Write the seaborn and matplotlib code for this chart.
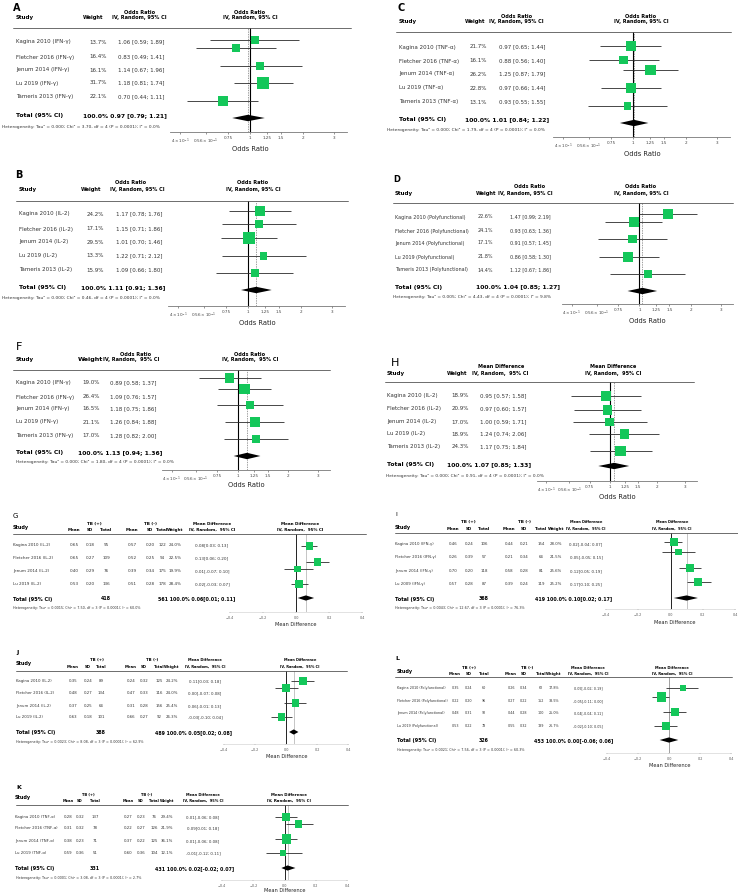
import matplotlib
matplotlib.use('Agg')
import matplotlib.pyplot as plt
from matplotlib.lines import Line2D
from matplotlib.ticker import NullLocator
import seaborn as sns

# ---------------- data ----------------
names5 = ['Kagina 2010', 'Fletcher 2016', 'Jenum 2014', 'Lu 2019', 'Tameris 2013']

# Odds ratio panels
studies_A = [f'{n} (IFN-γ)' for n in names5]
weight_A = [13.7, 16.4, 16.1, 31.7, 22.1]
est_A = [1.06, 0.83, 1.14, 1.18, 0.70]
lo_A = [0.59, 0.49, 0.67, 0.81, 0.44]
hi_A = [1.89, 1.41, 1.96, 1.74, 1.11]
total_A = [0.97, 0.79, 1.21]
het_A = 'Heterogeneity: Tau² = 0.000; Chi² = 3.70, df = 4 (P = 0.0001); I² = 0.0%'

studies_B = [f'{n} (IL-2)' for n in names5]
weight_B = [24.2, 17.1, 29.5, 13.3, 15.9]
est_B = [1.17, 1.15, 1.01, 1.22, 1.09]
lo_B = [0.78, 0.71, 0.70, 0.71, 0.66]
hi_B = [1.76, 1.86, 1.46, 2.12, 1.80]
total_B = [1.11, 0.91, 1.36]
het_B = 'Heterogeneity: Tau² = 0.000; Chi² = 0.46, df = 4 (P = 0.0001); I² = 0.0%'

studies_C = [f'{n} (TNF-α)' for n in names5]
weight_C = [21.7, 16.1, 26.2, 22.8, 13.1]
est_C = [0.97, 0.88, 1.25, 0.97, 0.93]
lo_C = [0.65, 0.56, 0.87, 0.66, 0.55]
hi_C = [1.44, 1.40, 1.79, 1.44, 1.55]
total_C = [1.01, 0.84, 1.22]
het_C = 'Heterogeneity: Tau² = 0.000; Chi² = 1.79, df = 4 (P = 0.0001); I² = 0.0%'

studies_D = [f'{n} (Polyfunctional)' for n in names5]
weight_D = [22.6, 24.1, 17.1, 21.8, 14.4]
est_D = [1.47, 0.93, 0.91, 0.86, 1.12]
lo_D = [0.99, 0.63, 0.57, 0.58, 0.67]
hi_D = [2.19, 1.36, 1.45, 1.30, 1.86]
total_D = [1.04, 0.85, 1.27]
het_D = 'Heterogeneity: Tau² = 0.005; Chi² = 4.43, df = 4 (P = 0.0001); I² = 9.8%'

studies_F = [f'{n} (IFN-γ)' for n in names5]
weight_F = [19.0, 26.4, 16.5, 21.1, 17.0]
est_F = [0.89, 1.09, 1.18, 1.26, 1.28]
lo_F = [0.58, 0.76, 0.75, 0.84, 0.82]
hi_F = [1.37, 1.57, 1.86, 1.88, 2.00]
total_F = [1.13, 0.94, 1.36]
het_F = 'Heterogeneity: Tau² = 0.000; Chi² = 1.80, df = 4 (P = 0.0001); I² = 0.0%'

studies_H = [f'{n} (IL-2)' for n in names5]
weight_H = [18.9, 20.9, 17.0, 18.9, 24.3]
est_H = [0.95, 0.97, 1.00, 1.24, 1.17]
lo_H = [0.57, 0.60, 0.59, 0.74, 0.75]
hi_H = [1.58, 1.57, 1.71, 2.06, 1.84]
total_H = [1.07, 0.85, 1.33]
het_H = 'Heterogeneity: Tau² = 0.000; Chi² = 0.91, df = 4 (P = 0.0001); I² = 0.0%'

or_ticks = [0.4, 0.56, 0.75, 1, 1.25, 1.5, 2, 3]
or_ticklabels = [r'$4\times10^{-1}$', r'$0.56\times10^{-1}$', '0.75', '1', '1.25', '1.5', '2', '3']

# Mean difference panels
studies_G = ['Kagina 2010 (IL-2)', 'Fletcher 2016 (IL-2)', 'Jenum 2014 (IL-2)', 'Lu 2019 (IL-2)']
mean_pos_G = [0.65, 0.65, 0.40, 0.53]
sd_pos_G = [0.18, 0.27, 0.29, 0.20]
n_pos_G = [95, 109, 76, 136]
mean_neg_G = [0.57, 0.52, 0.39, 0.51]
sd_neg_G = [0.20, 0.25, 0.34, 0.28]
n_neg_G = [122, 94, 175, 178]
weight_G = [24.0, 22.5, 19.9, 28.4]
md_G = [0.08, 0.13, 0.01, 0.02]
mdlo_G = [0.03, 0.06, -0.07, -0.03]
mdhi_G = [0.13, 0.20, 0.10, 0.07]
ntot_G = [418, 561]
total_G = [0.06, 0.01, 0.11]
het_G = 'Heterogeneity: Tau² = 0.0015; Chi² = 7.50, df = 3 (P = 0.0001); I² = 60.0%'

studies_I = ['Kagina 2010 (IFN-γ)', 'Fletcher 2016 (IFN-γ)', 'Jenum 2014 (IFN-γ)', 'Lu 2009 (IFN-γ)']
mean_pos_I = [0.46, 0.26, 0.70, 0.57]
sd_pos_I = [0.24, 0.39, 0.20, 0.28]
n_pos_I = [106, 57, 118, 87]
mean_neg_I = [0.44, 0.21, 0.58, 0.39]
sd_neg_I = [0.21, 0.34, 0.28, 0.24]
n_neg_I = [154, 64, 81, 119]
weight_I = [28.0, 21.5, 25.6, 25.2]
md_I = [0.02, 0.05, 0.12, 0.17]
mdlo_I = [-0.04, -0.05, 0.05, 0.10]
mdhi_I = [0.07, 0.15, 0.19, 0.25]
ntot_I = [368, 419]
total_I = [0.10, 0.02, 0.17]
het_I = 'Heterogeneity: Tau² = 0.0043; Chi² = 12.67, df = 3 (P = 0.0001); I² = 76.3%'

studies_J = ['Kagina 2010 (IL-2)', 'Fletcher 2016 (IL-2)', 'Jenum 2014 (IL-2)', 'Lu 2019 (IL-2)']
mean_pos_J = [0.35, 0.48, 0.37, 0.63]
sd_pos_J = [0.24, 0.27, 0.25, 0.18]
n_pos_J = [89, 134, 64, 101]
mean_neg_J = [0.24, 0.47, 0.31, 0.66]
sd_neg_J = [0.32, 0.33, 0.28, 0.27]
n_neg_J = [125, 116, 156, 92]
weight_J = [24.2, 24.0, 25.4, 26.3]
md_J = [0.11, 0.00, 0.06, -0.03]
mdlo_J = [0.03, -0.07, -0.01, -0.10]
mdhi_J = [0.18, 0.08, 0.13, 0.04]
ntot_J = [388, 489]
total_J = [0.05, 0.02, 0.08]
het_J = 'Heterogeneity: Tau² = 0.0023; Chi² = 8.08, df = 3 (P = 0.0001); I² = 62.9%'

studies_L = ['Kagina 2010 (Polyfunctional)', 'Fletcher 2016 (Polyfunctional)',
             'Jenum 2014 (Polyfunctional)', 'Lu 2019 (Polyfunctional)']
mean_pos_L = [0.35, 0.22, 0.48, 0.53]
sd_pos_L = [0.24, 0.20, 0.31, 0.22]
n_pos_L = [60, 96, 92, 78]
mean_neg_L = [0.26, 0.27, 0.44, 0.55]
sd_neg_L = [0.34, 0.22, 0.28, 0.32]
n_neg_L = [62, 152, 100, 139]
weight_L = [17.8, 38.5, 25.0, 26.7]
md_L = [0.09, -0.05, 0.04, -0.02]
mdlo_L = [-0.02, -0.11, -0.04, -0.10]
mdhi_L = [0.19, 0.00, 0.11, 0.05]
ntot_L = [326, 453]
total_L = [0.00, -0.06, 0.06]
het_L = 'Heterogeneity: Tau² = 0.0021; Chi² = 7.56, df = 3 (P = 0.0001); I² = 60.3%'

studies_K = ['Kagina 2010 (TNF-α)', 'Fletcher 2016 (TNF-α)', 'Jenum 2014 (TNF-α)', 'Lu 2019 (TNF-α)']
mean_pos_K = [0.28, 0.31, 0.38, 0.59]
sd_pos_K = [0.32, 0.32, 0.23, 0.36]
n_pos_K = [137, 78, 71, 51]
mean_neg_K = [0.27, 0.22, 0.37, 0.60]
sd_neg_K = [0.23, 0.27, 0.22, 0.36]
n_neg_K = [76, 126, 125, 104]
weight_K = [29.4, 21.9, 36.1, 12.1]
md_K = [0.01, 0.09, 0.01, -0.01]
mdlo_K = [-0.06, 0.01, -0.06, -0.12]
mdhi_K = [0.08, 0.18, 0.08, 0.11]
ntot_K = [331, 431]
total_K = [0.02, -0.02, 0.07]
het_K = 'Heterogeneity: Tau² = 0.0001; Chi² = 3.08, df = 3 (P = 0.0001); I² = 2.7%'

md_ticks = [-0.4, -0.2, 0.0, 0.2, 0.4]
md_ticklabels = ['−0.4', '−0.2', '0.0', '0.2', '0.4']

# ---------------- layout (pixels, y from top) ----------------
W, H = 738, 895
GREEN = '#14c75a'
TXT = '#333333'

sns.set_theme(style='white')
plt.rcParams['font.family'] = ['DejaVu Sans']

fig = plt.figure(figsize=(W / 100, H / 100), dpi=100)


def ftext(x, y, s, size=4.0, ha='left', weight='normal', color=TXT):
    fig.text(x / W, 1 - y / H, s, fontsize=size, ha=ha, va='center',
             fontweight=weight, color=color)


def hline(x0, x1, y, color='#555555', lw=0.6):
    fig.add_artist(Line2D([x0 / W, x1 / W], [1 - y / H] * 2, color=color, lw=lw))


def make_ax(x0, x1, ytop, ybot):
    ax = fig.add_axes([x0 / W, 1 - ybot / H, (x1 - x0) / W, (ybot - ytop) / H])
    ax.patch.set_alpha(0)
    for s in ['top', 'left', 'right']:
        ax.spines[s].set_visible(False)
    return ax


def finish_ax(ax, ytop, ybot):
    ax.set_ylim(ybot, ytop)
    ax.set_yticks([])
    ax.set_xlabel('')
    ax.set_ylabel('')


def or_panel(L, studies, weight, est, lo, hi, total, het):
    lx, ly, letter, lw_, lsize = L['letter']
    ftext(lx, ly, letter, size=lsize, weight=lw_, color='black')
    h1, h2 = L['head_y']
    ftext(L['study_x'], h2, 'Study', size=4.0, weight='bold', color='black')
    ftext(L['weight_x'], h2, 'Weight', size=L.get('wsize', 3.7), weight='bold', color='black')
    ftext(L['title_cx'], h1, L['title'], size=3.6, ha='center', weight='bold', color='black')
    ftext(L['iv_x'], h2, L['iv'], size=3.6, weight='bold', color='black')
    ftext(L['rtitle_cx'], h1, L['title'], size=3.6, ha='center', weight='bold', color='black')
    ftext(L['rtitle_cx'], h2, L['iv'], size=3.6, ha='center', weight='bold', color='black')
    hline(L['line_x0'], L['line_x1'], L['line_y'])

    rs = L.get('row_size', 4.0)
    for y, s, w, e, l, h in zip(L['rows_y'], studies, weight, est, lo, hi):
        ftext(L['study_x'], y, s, size=rs)
        ftext(L['wval_rx'], y, f'{w:.1f}%', size=rs, ha='right')
        ftext(L['ci_x'], y, f'{e:.2f} [{l:.2f}; {h:.2f}]', size=rs)

    te, tl, th = total
    ftext(L['study_x'], L['total_y'], 'Total (95% CI)', size=4.3, weight='bold', color='black')
    ftext(L['weight_x'], L['total_y'], f'100.0% {te:.2f} [{tl:.2f}; {th:.2f}]',
          size=4.3, weight='bold', color='black')
    ftext(L['het_x'], L['het_y'], het, size=3.2)

    ytop, ybot = L['line_y'], L['axis_y']
    ax = make_ax(L['ax_x0'], L['ax_x1'], ytop, ybot)
    ax.axvline(1, color='black', lw=0.8, zorder=1)
    ax.axvline(te, color='#777777', lw=0.5, ls=(0, (2, 1.5)), zorder=1)
    ax.hlines(L['marks_y'], lo, hi, color='#2a2a2a', lw=0.6, zorder=2)
    sizes = [(0.72 * 2.1) ** 2 * w for w in weight]
    sns.scatterplot(x=est, y=L['marks_y'], s=sizes, marker='s', color=GREEN,
                    linewidth=0, ax=ax, legend=False, zorder=3)
    yd, dh = L['diamond_y'], 3.2
    ax.fill([tl, te, th, te], [yd, yd - dh, yd, yd + dh], color='black', lw=0, zorder=3)
    ax.set_xscale('log')
    ax.set_xlim(0.35, 3.55)
    ax.set_xticks(or_ticks)
    ax.set_xticklabels(or_ticklabels)
    ax.xaxis.set_minor_locator(NullLocator())
    ax.tick_params(axis='x', length=1.5, width=0.4, pad=1, labelsize=3.0,
                   colors='#444444', bottom=True)
    ax.spines['bottom'].set_linewidth(0.6)
    ax.spines['bottom'].set_color('#777777')
    finish_ax(ax, ytop, ybot)
    ftext(L['xlabel_cx'], L['xlabel_y'], 'Odds Ratio', size=4.9, ha='center', color='#222222')


def md_panel(L, studies, mp, sp, np_, mn, sn, nn, weight, md, lo, hi, ntot, total, het):
    lx, ly, letter, lw_, lsize = L['letter']
    ftext(lx, ly, letter, size=lsize, weight=lw_, color='black')
    h1, h2 = L['head_y']
    c = L['cols']
    hs = L.get('hsize', 3.0)
    ftext(L['study_x'], L['study_y'], 'Study', size=3.5, weight='bold', color='black')
    ftext(L['tb1_cx'], h1, 'TB (+)', size=hs, ha='center', weight='bold', color='black')
    ftext(L['tb2_cx'], h1, 'TB (-)', size=hs, ha='center', weight='bold', color='black')
    for key, lab in zip(['m1', 's1', 't1', 'm2', 's2', 't2', 'w'],
                        ['Mean', 'SD', 'Total', 'Mean', 'SD', 'Total', 'Weight']):
        ftext(c[key], h2, lab, size=hs, ha='center', weight='bold', color='black')
    ftext(c['ci'], h1, 'Mean Difference', size=L.get('msize', 3.0), ha='center', weight='bold', color='black')
    ftext(c['ci'], h2, 'IV, Random,  95% CI', size=L.get('msize', 3.0), ha='center', weight='bold', color='black')
    ftext(L['rh_cx'], h1, 'Mean Difference', size=L.get('rsize', 3.0), ha='center', weight='bold', color='black')
    ftext(L['rh_cx'], h2, 'IV, Random,  95% CI', size=L.get('rsize', 3.0), ha='center', weight='bold', color='black')
    hline(L['line_x0'], L['line_x1'], L['line_y'])

    rs = L.get('row_size', 3.0)
    for i, y in enumerate(L['rows_y']):
        ftext(L['study_x'], y, studies[i], size=rs)
        ftext(c['m1'], y, f'{mp[i]:.2f}', size=rs, ha='center')
        ftext(c['s1'], y, f'{sp[i]:.2f}', size=rs, ha='center')
        ftext(c['t1'], y, f'{np_[i]}', size=rs, ha='center')
        ftext(c['m2'], y, f'{mn[i]:.2f}', size=rs, ha='center')
        ftext(c['s2'], y, f'{sn[i]:.2f}', size=rs, ha='center')
        ftext(c['t2'], y, f'{nn[i]}', size=rs, ha='center')
        ftext(c['w'], y, f'{weight[i]:.1f}%', size=rs, ha='center')
        ftext(c['ci'], y, f'{md[i]:.2f}[{lo[i]:.2f}; {hi[i]:.2f}]', size=rs, ha='center')

    te, tl, th = total
    ftext(L['study_x'], L['total_y'], 'Total (95% CI)', size=3.6, weight='bold', color='black')
    ftext(c['t1'], L['total_y'], f'{ntot[0]}', size=3.4, ha='center', weight='bold', color='black')
    ftext(L['total_rest_x'], L['total_y'], f'{ntot[1]} 100.0% {te:.2f}[{tl:.2f}; {th:.2f}]',
          size=3.4, weight='bold', color='black')
    ftext(L['het_x'], L['het_y'], het, size=2.4)

    ytop, ybot = L['line_y'], L['axis_y']
    ax = make_ax(L['ax_x0'], L['ax_x1'], ytop, ybot)
    ax.axvline(0, color='#222222', lw=0.7, zorder=1)
    ax.axvline(te, color='#bbbbbb', lw=0.6, zorder=1)
    ax.hlines(L['marks_y'], lo, hi, color='#2a2a2a', lw=0.6, zorder=2)
    sizes = [(0.72 * 1.5) ** 2 * w for w in weight]
    sns.scatterplot(x=md, y=L['marks_y'], s=sizes, marker='s', color=GREEN,
                    linewidth=0, ax=ax, legend=False, zorder=3)
    yd, dh = L['diamond_y'], 2.6
    ax.fill([tl, te, th, te], [yd, yd - dh, yd, yd + dh], color='black', lw=0, zorder=3)
    ax.set_xlim(-0.4, 0.4)
    ax.set_xticks(md_ticks)
    ax.set_xticklabels(md_ticklabels)
    ax.tick_params(axis='x', length=1.0, width=0.3, pad=1, labelsize=2.4,
                   colors='#555555', bottom=True)
    ax.spines['bottom'].set_linewidth(0.4)
    ax.spines['bottom'].set_color('#cccccc')
    finish_ax(ax, ytop, ybot)
    ftext(L['xlabel_cx'], L['xlabel_y'], 'Mean Difference', size=3.6, ha='center', color='#222222')


OR_TITLE = 'Odds Ratio'
IV = 'IV, Random, 95% CI'

lay_A = dict(letter=(13, 8, 'A', 'bold', 7), head_y=(12, 18), study_x=16, weight_x=83, iv_x=112,
             title=OR_TITLE, iv=IV, title_cx=140, rtitle_cx=250, line_y=29, line_x0=13, line_x1=351,
             rows_y=[42, 57, 70, 83, 97], marks_y=[41, 49, 67, 84, 102], wval_rx=107, ci_x=118,
             total_y=116, diamond_y=119, het_y=127, het_x=2, ax_x0=170, ax_x1=347, axis_y=133,
             xlabel_y=149, xlabel_cx=250)
lay_B = dict(letter=(15, 175, 'B', 'bold', 7), head_y=(183, 190), study_x=19, weight_x=81, iv_x=110,
             title=OR_TITLE, iv=IV, title_cx=131, rtitle_cx=253, line_y=202, line_x0=16, line_x1=348,
             rows_y=[214, 229, 242, 256, 270], marks_y=[212, 225, 239, 257, 274], wval_rx=104, ci_x=116,
             total_y=288, diamond_y=291, het_y=298, het_x=2, ax_x0=168, ax_x1=345, axis_y=307,
             xlabel_y=323, xlabel_cx=257)
lay_C = dict(letter=(397, 8, 'C', 'bold', 7), head_y=(16, 22), study_x=399, weight_x=465, iv_x=489,
             title=OR_TITLE, iv=IV, title_cx=517, rtitle_cx=641, line_y=33, line_x0=396, line_x1=731,
             rows_y=[47, 61, 74, 88, 102], marks_y=[47, 61, 71, 89, 107], wval_rx=487, ci_x=499,
             total_y=120, diamond_y=124, het_y=130, het_x=387, ax_x0=553, ax_x1=730, axis_y=138,
             xlabel_y=154, xlabel_cx=642)
lay_D = dict(letter=(393, 180, 'D', 'bold', 6), head_y=(187, 193), study_x=395, weight_x=476, iv_x=498,
             title=OR_TITLE, iv=IV, title_cx=530, rtitle_cx=641, line_y=204, line_x0=393, line_x1=733,
             row_size=3.55,
             rows_y=[217, 231, 243, 257, 270], marks_y=[215, 223, 240, 258, 275], wval_rx=493, ci_x=510,
             total_y=287, diamond_y=292, het_y=297, het_x=393, ax_x0=562, ax_x1=733, axis_y=305,
             xlabel_y=321, xlabel_cx=647)
lay_F = dict(letter=(16, 347, 'F', 'normal', 8), head_y=(355, 360), study_x=16, weight_x=78, iv_x=103,
             title=OR_TITLE, iv='IV, Random,  95% CI', title_cx=136, rtitle_cx=250, wsize=4.6,
             line_y=371, line_x0=13, line_x1=330,
             rows_y=[383, 397, 409, 422, 436], marks_y=[379, 390, 406, 423, 440], wval_rx=100, ci_x=110,
             total_y=453, diamond_y=457, het_y=462, het_x=16, ax_x0=162, ax_x1=330, axis_y=471,
             xlabel_y=485, xlabel_cx=246)
lay_H = dict(letter=(391, 363, 'H', 'normal', 8), head_y=(366, 373), study_x=387, weight_x=447, iv_x=472,
             title='Mean Difference', iv='IV, Random,  95% CI', title_cx=501, rtitle_cx=613,
             line_y=383, line_x0=385, line_x1=694,
             rows_y=[396, 409, 422, 434, 447], marks_y=[397, 411, 423, 435, 452], wval_rx=469, ci_x=480,
             total_y=465, diamond_y=467, het_y=476, het_x=386, ax_x0=537, ax_x1=697, axis_y=482,
             xlabel_y=497, xlabel_cx=617)

lay_G = dict(letter=(13, 516, 'G', 'normal', 5), head_y=(524, 530), study_x=13, study_y=527,
             cols=dict(m1=74, s1=90, t1=106, m2=132, s2=150, t2=162, w=175, ci=212),
             tb1_cx=94, tb2_cx=150, rh_cx=300, line_y=535, line_x0=13, line_x1=366,
             rows_y=[545, 558, 571, 584], marks_y=[547, 563, 570, 585], total_y=599, total_rest_x=158,
             diamond_y=599, het_y=608, het_x=13, ax_x0=230, ax_x1=362, axis_y=613,
             xlabel_y=624, xlabel_cx=296)
lay_I = dict(letter=(395, 515, 'I', 'normal', 4.5), head_y=(522, 529), study_x=395, study_y=528,
             cols=dict(m1=453, s1=469, t1=484, m2=509, s2=524, t2=541, w=556, ci=586),
             tb1_cx=468, tb2_cx=525, rh_cx=672, line_y=534, line_x0=395, line_x1=738,
             msize=2.5, rsize=2.5, row_size=2.8,
             rows_y=[544, 557, 571, 584], marks_y=[543, 553, 569, 583], total_y=599, total_rest_x=535,
             diamond_y=599, het_y=608, het_x=395, ax_x0=606, ax_x1=735, axis_y=610,
             xlabel_y=623, xlabel_cx=675)
lay_J = dict(letter=(16, 653, 'J', 'bold', 4.5), head_y=(660, 667), study_x=16, study_y=663,
             cols=dict(m1=73, s1=88, t1=101, m2=131, s2=144, t2=159, w=172, ci=205),
             tb1_cx=97, tb2_cx=152, rh_cx=300, line_y=672, line_x0=16, line_x1=347,
             msize=2.6, rsize=2.5, row_size=2.8, hsize=2.8,
             rows_y=[681, 693, 706, 717], marks_y=[682, 689, 704, 718], total_y=733, total_rest_x=155,
             diamond_y=733, het_y=742, het_x=16, ax_x0=224, ax_x1=348, axis_y=745,
             xlabel_y=757, xlabel_cx=287)
lay_L = dict(letter=(395, 659, 'L', 'bold', 4.5), head_y=(668, 674), study_x=397, study_y=672,
             cols=dict(m1=455, s1=469, t1=484, m2=511, s2=524, t2=541, w=554, ci=588),
             tb1_cx=469, tb2_cx=527, rh_cx=672, line_y=678, line_x0=395, line_x1=732,
             msize=2.6, rsize=2.6, row_size=2.45, hsize=2.8,
             rows_y=[688, 701, 713, 726], marks_y=[689, 698, 713, 727], total_y=741, total_rest_x=534,
             diamond_y=741, het_y=750, het_x=397, ax_x0=607, ax_x1=731, axis_y=754,
             xlabel_y=766, xlabel_cx=670)
lay_K = dict(letter=(16, 788, 'K', 'bold', 4.5), head_y=(795, 801), study_x=15, study_y=798,
             cols=dict(m1=68, s1=80, t1=95, m2=128, s2=141, t2=154, w=167, ci=203),
             tb1_cx=88, tb2_cx=147, rh_cx=289, line_y=806, line_x0=16, line_x1=348,
             msize=2.6, rsize=2.8, row_size=2.8, hsize=2.6,
             rows_y=[817, 828, 841, 853], marks_y=[818, 825, 840, 854], total_y=869, total_rest_x=155,
             diamond_y=869, het_y=878, het_x=16, ax_x0=222, ax_x1=347, axis_y=881,
             xlabel_y=891, xlabel_cx=285)

or_panel(lay_A, studies_A, weight_A, est_A, lo_A, hi_A, total_A, het_A)
or_panel(lay_B, studies_B, weight_B, est_B, lo_B, hi_B, total_B, het_B)
or_panel(lay_C, studies_C, weight_C, est_C, lo_C, hi_C, total_C, het_C)
or_panel(lay_D, studies_D, weight_D, est_D, lo_D, hi_D, total_D, het_D)
or_panel(lay_F, studies_F, weight_F, est_F, lo_F, hi_F, total_F, het_F)
or_panel(lay_H, studies_H, weight_H, est_H, lo_H, hi_H, total_H, het_H)

md_panel(lay_G, studies_G, mean_pos_G, sd_pos_G, n_pos_G, mean_neg_G, sd_neg_G, n_neg_G,
         weight_G, md_G, mdlo_G, mdhi_G, ntot_G, total_G, het_G)
md_panel(lay_I, studies_I, mean_pos_I, sd_pos_I, n_pos_I, mean_neg_I, sd_neg_I, n_neg_I,
         weight_I, md_I, mdlo_I, mdhi_I, ntot_I, total_I, het_I)
md_panel(lay_J, studies_J, mean_pos_J, sd_pos_J, n_pos_J, mean_neg_J, sd_neg_J, n_neg_J,
         weight_J, md_J, mdlo_J, mdhi_J, ntot_J, total_J, het_J)
md_panel(lay_L, studies_L, mean_pos_L, sd_pos_L, n_pos_L, mean_neg_L, sd_neg_L, n_neg_L,
         weight_L, md_L, mdlo_L, mdhi_L, ntot_L, total_L, het_L)
md_panel(lay_K, studies_K, mean_pos_K, sd_pos_K, n_pos_K, mean_neg_K, sd_neg_K, n_neg_K,
         weight_K, md_K, mdlo_K, mdhi_K, ntot_K, total_K, het_K)

fig.savefig('out.png', dpi=100)
